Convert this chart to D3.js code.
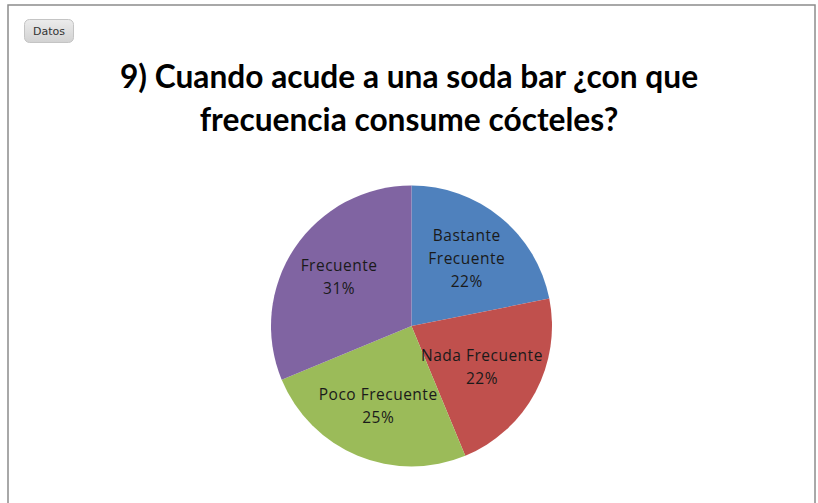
<!DOCTYPE html>
<html>
<head>
<meta charset="utf-8">
<script src="https://cdn.jsdelivr.net/npm/d3@7"></script>
<style>
  html, body { margin: 0; padding: 0; background: #fff; }
  svg { display: block; }
</style>
</head>
<body>
<div id="chart"></div>
<script>
// datos de la pregunta 9
const categories = ['Bastante Frecuente', 'Nada Frecuente', 'Poco Frecuente', 'Frecuente'];
const counts = [7, 7, 8, 10];
const colors = ['#4F81BD', '#C0504D', '#9BBB59', '#8064A2'];
const titleLines = ['9) Cuando acude a una soda bar ¿con que', 'frecuencia consume cócteles?'];
// etiquetas tal como aparecen en el gráfico
const labelLines = [['Bastante', 'Frecuente'], ['Nada Frecuente'], ['Poco Frecuente'], ['Frecuente']];

const width = 818, height = 503;
const cx = 411.5, cy = 326, radius = 140.5;

const svg = d3.select('#chart').append('svg')
    .attr('width', width)
    .attr('height', height);

// marco del gráfico
svg.append('rect')
    .attr('x', 8).attr('y', 5)
    .attr('width', 807).attr('height', 520)
    .attr('fill', '#fff')
    .attr('stroke', '#8c8c8c')
    .attr('stroke-width', 1.5);

// botón "Datos"
const defs = svg.append('defs');
const grad = defs.append('linearGradient')
    .attr('id', 'btn-grad')
    .attr('x1', '0%').attr('y1', '0%')
    .attr('x2', '0%').attr('y2', '100%');
grad.append('stop').attr('offset', '0%').attr('stop-color', '#ececec');
grad.append('stop').attr('offset', '100%').attr('stop-color', '#d2d2d2');

svg.append('rect')
    .attr('x', 24.5).attr('y', 19.5)
    .attr('width', 49).attr('height', 23)
    .attr('rx', 5)
    .attr('fill', 'url(#btn-grad)')
    .attr('stroke', '#c4c4c4');
svg.append('text')
    .attr('x', 49).attr('y', 35)
    .attr('text-anchor', 'middle')
    .attr('font-family', 'DejaVu Sans, sans-serif')
    .attr('font-size', '11px')
    .attr('fill', '#333')
    .text('Datos');

// título
svg.append('g')
    .selectAll('text')
    .data(titleLines)
    .join('text')
    .attr('x', 409)
    .attr('y', (d, i) => 88 + i * 43)
    .attr('text-anchor', 'middle')
    .attr('font-family', 'Lato, "Open Sans", sans-serif')
    .attr('font-weight', 'bold')
    .attr('font-size', '31.7px')
    .attr('fill', '#000')
    .text(d => d);

// pastel
const total = d3.sum(counts);
const pie = d3.pie().sort(null).value(d => d);
const arc = d3.arc().innerRadius(0).outerRadius(radius);
const labelArc = d3.arc().innerRadius(radius * 0.62).outerRadius(radius * 0.62);

const g = svg.append('g').attr('transform', `translate(${cx},${cy})`);
const arcs = pie(counts);

g.selectAll('path')
    .data(arcs)
    .join('path')
    .attr('d', arc)
    .attr('fill', (d, i) => colors[i]);

// etiquetas de datos (la línea más ancha se mantiene dentro del círculo)
const lh = 23;
const pad = 6;
arcs.forEach((d, i) => {
    const [lx, ly] = labelArc.centroid(d);
    const lines = labelLines[i].concat([Math.round(counts[i] / total * 100) + '%']);
    const y0 = ly - (lines.length - 1) * lh / 2;
    const t = g.append('text')
        .attr('text-anchor', 'middle')
        .attr('font-family', '"Open Sans", sans-serif')
        .attr('font-size', '15.5px')
        .attr('letter-spacing', '0.5px')
        .attr('fill', '#1a1a1a');
    let widest = 0, widestY = y0;
    lines.forEach((line, j) => {
        const ts = t.append('tspan')
            .attr('x', lx)
            .attr('y', y0 + j * lh + 5)
            .text(line);
        const w = ts.node().getComputedTextLength();
        if (w > widest) { widest = w; widestY = y0 + j * lh; }
    });
    const hw = Math.sqrt(Math.max(0, radius * radius - widestY * widestY)) - pad;
    let shift = 0;
    if (lx + widest / 2 > hw) shift = hw - (lx + widest / 2);
    if (lx - widest / 2 < -hw) shift = -hw - (lx - widest / 2);
    t.selectAll('tspan').attr('x', lx + shift);
});
</script>
</body>
</html>
